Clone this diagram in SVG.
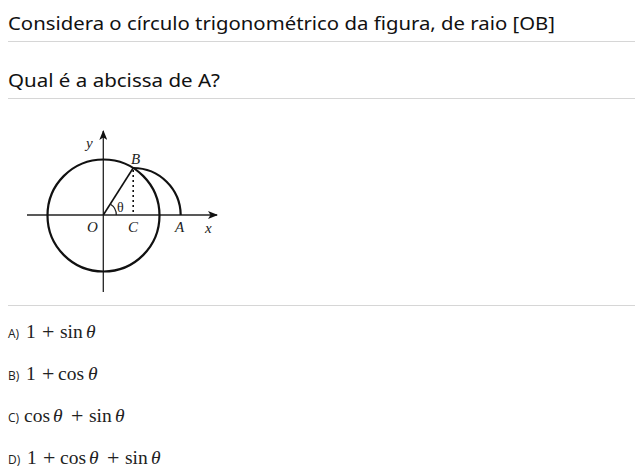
<svg xmlns="http://www.w3.org/2000/svg" width="635" height="475" viewBox="0 0 635 475">
<style>
.h{font-family:"Noto Sans","Open Sans",sans-serif;font-size:18px;fill:#111}
.rule{stroke:#d6d6d6;stroke-width:1}
.lbl{font-family:"Liberation Serif",serif;font-style:italic;font-size:15px;fill:#222}
.opt{font-family:"Open Sans","Noto Sans",sans-serif;font-size:12px;fill:#222}
.m{font-family:"Liberation Serif",serif;font-size:19.5px;fill:#222}
.p{font-family:"Liberation Serif",serif;font-size:22px;fill:#222}
.mi{font-style:italic}
.thick{fill:none;stroke:#111;stroke-width:2.2}
.thin{fill:none;stroke:#222;stroke-width:1.3}
</style>
<defs>
<marker id="arr" markerWidth="10" markerHeight="8" refX="9" refY="4" orient="auto" markerUnits="userSpaceOnUse">
<path d="M0,0 L10,4 L0,8 L2.5,4 Z" fill="#111"/>
</marker>
</defs>
<rect width="635" height="475" fill="#fff"/>
<g id="header">
<text class="h" x="8" y="30" textLength="547" lengthAdjust="spacingAndGlyphs">Considera o círculo trigonométrico da figura, de raio [OB]</text>
<line class="rule" x1="8" y1="41.5" x2="635" y2="41.5"/>
<text class="h" x="8" y="87" textLength="212" lengthAdjust="spacingAndGlyphs">Qual é a abcissa de A?</text>
<line class="rule" x1="8" y1="98.5" x2="635" y2="98.5"/>
<line class="rule" x1="8" y1="305.5" x2="635" y2="305.5"/>
</g>
<g id="figure">
<g id="connectors">
<line class="thin" x1="27" y1="215" x2="217" y2="215" marker-end="url(#arr)"/>
<line class="thin" x1="103.3" y1="292" x2="103.3" y2="131" marker-end="url(#arr)"/>
<line stroke="#111" stroke-width="1.6" x1="103.3" y1="215" x2="133.2" y2="168"/>
<line stroke="#111" stroke-width="1.6" stroke-dasharray="2,3" x1="133.2" y1="170" x2="133.2" y2="215"/>
<path class="thin" d="M116.3,215 A13,13 0 0 0 110.2,204"/>
</g>
<g id="circle"><circle class="thick" cx="103.5" cy="215.5" r="56"/></g>
<g id="arcBA"><path class="thick" d="M133.2,168 A47.5,47.5 0 0 1 180.7,215"/></g>
<text class="lbl" x="86" y="148">y</text>
<text class="lbl" x="131" y="164">B</text>
<text class="lbl" x="117" y="212" style="font-style:normal;font-size:14px">θ</text>
<text class="lbl" x="87" y="232">O</text>
<text class="lbl" x="128" y="232">C</text>
<text class="lbl" x="175" y="232">A</text>
<text class="lbl" x="205" y="233">x</text>
</g>
<g id="options">
<text y="338"><tspan class="opt" x="8">A)</tspan><tspan class="m" x="26">1</tspan><tspan class="p" x="42" y="339">+</tspan><tspan class="m" x="60" y="338">sin</tspan><tspan class="m mi" x="86">θ</tspan></text>
<text y="380"><tspan class="opt" x="8">B)</tspan><tspan class="m" x="26">1</tspan><tspan class="p" x="42" y="381">+</tspan><tspan class="m" x="58" y="380">cos</tspan><tspan class="m mi" x="88">θ</tspan></text>
<text y="422"><tspan class="opt" x="8">C)</tspan><tspan class="m" x="24">cos</tspan><tspan class="m mi" x="53">θ</tspan><tspan class="p" x="71" y="423">+</tspan><tspan class="m" x="89" y="422">sin</tspan><tspan class="m mi" x="115">θ</tspan></text>
<text y="464"><tspan class="opt" x="8">D)</tspan><tspan class="m" x="27">1</tspan><tspan class="p" x="43" y="465">+</tspan><tspan class="m" x="60" y="464">cos</tspan><tspan class="m mi" x="89">θ</tspan><tspan class="p" x="107" y="465">+</tspan><tspan class="m" x="125" y="464">sin</tspan><tspan class="m mi" x="151">θ</tspan></text>
</g>
</svg>
